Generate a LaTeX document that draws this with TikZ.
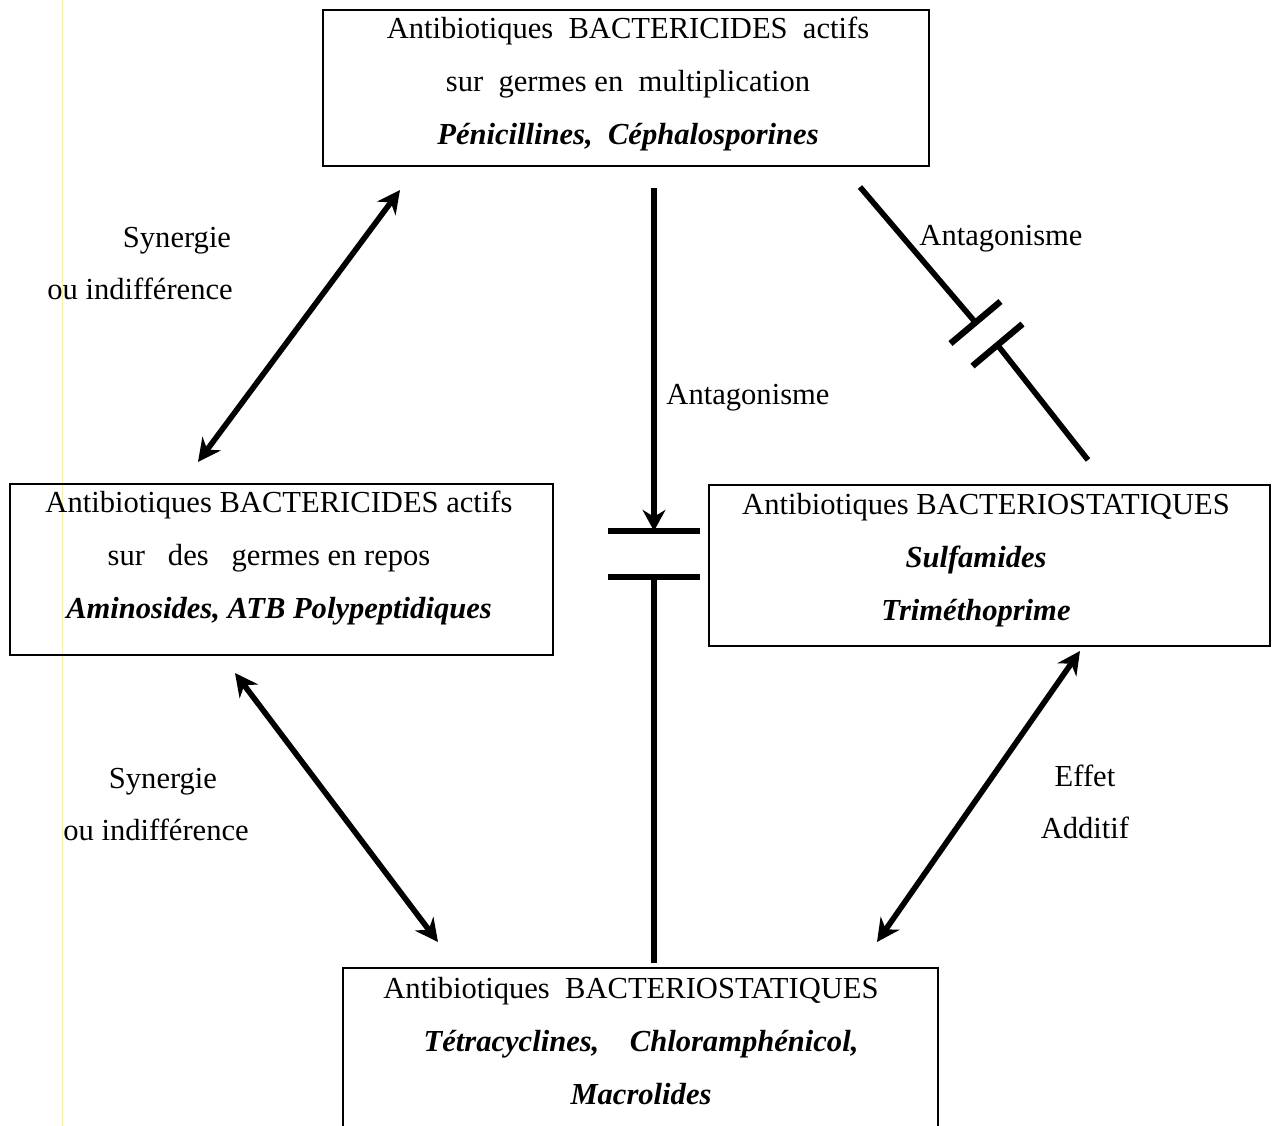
\documentclass[tikz,border=0pt]{standalone}
\usepackage{fontspec}
\setmainfont{Liberation Serif}
\usetikzlibrary{arrows.meta}
\newcommand{\molecule}[1]{\textbf{\textit{#1}}}
\tikzset{
  boite/.style={draw, line width=0.8pt, inner sep=0pt},
  texte/.style={align=center, inner sep=0pt, font=\fontsize{17.4}{30}\selectfont},
  trait/.style={line width=3.2pt},
  barre/.style={line width=3.6pt},
  fleche/.style={line width=3.2pt, {Stealth[length=13pt,width=13pt]}-{Stealth[length=13pt,width=13pt]}},
}
\begin{document}
\begin{tikzpicture}[x=0.02cm, y=-0.02cm]
	\useasboundingbox (0,0) rectangle (1275,1126);
	\clip (0,0) rectangle (1275,1126);
	\draw[yellow!60!white, line width=0.5pt] (62,0) -- (62,1126);
	\node[boite, minimum width=12.12cm, minimum height=3.12cm] (bcmult) at (626,88) {};
	\node[boite, minimum width=10.86cm, minimum height=3.42cm] (bcrepos) at (281.5,569.5) {};
	\node[boite, minimum width=11.22cm, minimum height=3.22cm] (bssulf) at (989.5,565.5) {};
	\node[boite, minimum width=11.9cm, minimum height=3.8cm] (bstetra) at (640.5,1063) {};
	\node[texte] (bcmulttxt) at (628,84) {Antibiotiques~~BACTERICIDES~~actifs\\ sur~~germes en~~multiplication\\ \molecule{Pénicillines,~~Céphalosporines}};
	\node[texte] (bcrepostxt) at (279,558) {Antibiotiques BACTERICIDES actifs\\ sur~~~des~~~germes en repos\rule{0.4cm}{0pt}\\ \molecule{Aminosides, ATB Polypeptidiques}};
	\node[texte] (bssulftxt) at (976,560) {\rule{0.4cm}{0pt}Antibiotiques BACTERIOSTATIQUES\\ \molecule{Sulfamides}\\ \molecule{Triméthoprime}};
	\node[texte] (bstetratxt) at (641,1041) {Antibiotiques~~BACTERIOSTATIQUES\rule{0.4cm}{0pt}\\ \molecule{Tétracyclines,~~~~Chloramphénicol,}\\ \molecule{Macrolides}};
	\coordinate (sgA) at (400,190);
	\coordinate (sgB) at (198,462);
	\coordinate (sgC) at (235,673);
	\coordinate (sgD) at (438,942);
	\coordinate (adA) at (1080,651);
	\coordinate (adB) at (877,942);
	\draw[fleche] (sgB) -- (sgA);
	\draw[fleche] (sgC) -- (sgD);
	\draw[fleche] (adB) -- (adA);
	\coordinate (antH) at (654,188);
	\coordinate (barreA) at (654,531);
	\coordinate (barreB) at (654,577);
	\coordinate (antB) at (654,963);
	\draw[trait, -{Stealth[length=12pt,width=13pt]}] (antH) -- (barreA);
	\draw[barre] ([xshift=-0.92cm]barreA) -- ([xshift=0.92cm]barreA);
	\draw[barre] ([xshift=-0.92cm]barreB) -- ([xshift=0.92cm]barreB);
	\draw[trait] (barreB) -- (antB);
	\coordinate (antD1) at (860,187);
	\coordinate (barreC) at (975.5,322.5);
	\coordinate (barreD) at (997.5,345);
	\coordinate (antD2) at (1088,460);
	\draw[trait] (antD1) -- (barreC);
	\draw[barre] ([shift={(-25,21)}]barreC) -- ([shift={(25,-21)}]barreC);
	\draw[barre] ([shift={(-25,21)}]barreD) -- ([shift={(25,-21)}]barreD);
	\draw[trait] (barreD) -- (antD2);
	\node[texte] (syn1) at (177,241) {Synergie};
	\node[texte] (ind1) at (140,289) {ou indifférence};
	\node[texte] (syn2) at (163,782) {Synergie};
	\node[texte] (ind2) at (156,830) {ou indifférence};
	\node[texte] (effet) at (1085,802) {Effet\\ Additif};
	\node[texte] (antag1) at (1001,239) {Antagonisme};
	\node[texte] (antag2) at (748,398) {Antagonisme};
\end{tikzpicture}
\end{document}
